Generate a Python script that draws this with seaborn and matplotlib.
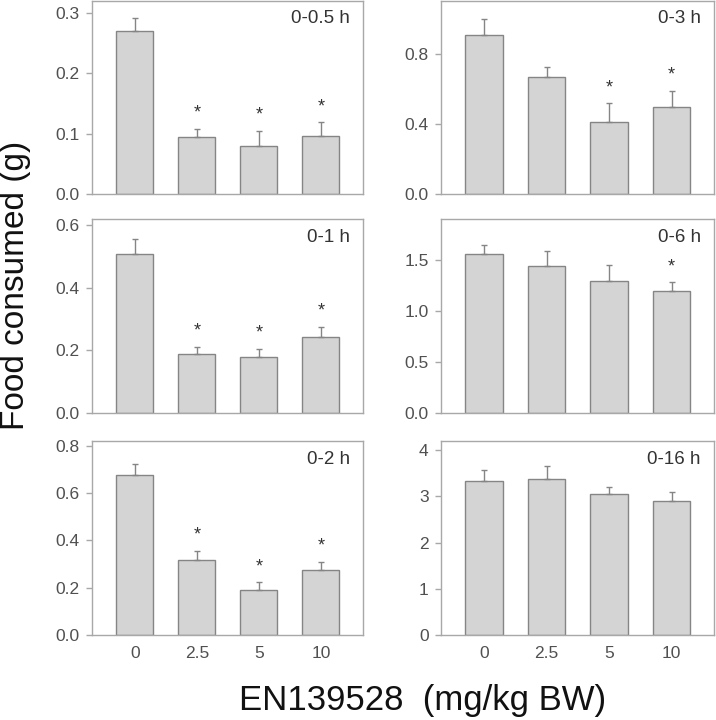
import matplotlib
matplotlib.use("Agg")
import matplotlib.pyplot as plt
import seaborn as sns
import pandas as pd

# ---- data ----
doses = ["0", "2.5", "5", "10"]

titles = ["0-0.5 h", "0-1 h", "0-2 h", "0-3 h", "0-6 h", "0-16 h"]

mean_05h = [0.270, 0.094, 0.080, 0.096]
sem_05h = [0.022, 0.014, 0.025, 0.023]
sig_05h = [False, True, True, True]

mean_1h = [0.507, 0.187, 0.178, 0.244]
sem_1h = [0.049, 0.025, 0.028, 0.032]
sig_1h = [False, True, True, True]

mean_2h = [0.678, 0.315, 0.192, 0.276]
sem_2h = [0.044, 0.042, 0.030, 0.034]
sig_2h = [False, True, True, True]

mean_3h = [0.905, 0.667, 0.411, 0.494]
sem_3h = [0.095, 0.055, 0.106, 0.095]
sig_3h = [False, False, True, True]

mean_6h = [1.56, 1.44, 1.29, 1.19]
sem_6h = [0.09, 0.15, 0.16, 0.09]
sig_6h = [False, False, False, True]

mean_16h = [3.34, 3.38, 3.06, 2.90]
sem_16h = [0.23, 0.28, 0.14, 0.20]
sig_16h = [False, False, False, False]

ylims = [0.32, 0.62, 0.82, 1.10, 1.90, 4.20]
yticks = [
    [0.0, 0.1, 0.2, 0.3],
    [0.0, 0.2, 0.4, 0.6],
    [0.0, 0.2, 0.4, 0.6, 0.8],
    [0.0, 0.4, 0.8],
    [0.0, 0.5, 1.0, 1.5],
    [0, 1, 2, 3, 4],
]
ytick_fmt = ["%.1f", "%.1f", "%.1f", "%.1f", "%.1f", "%d"]

means = [mean_05h, mean_1h, mean_2h, mean_3h, mean_6h, mean_16h]
sems = [sem_05h, sem_1h, sem_2h, sem_3h, sem_6h, sem_16h]
sigs = [sig_05h, sig_1h, sig_2h, sig_3h, sig_6h, sig_16h]

# ---- style ----
sns.set_theme(style="white")
plt.rcParams["font.family"] = ["Liberation Sans", "DejaVu Sans"]

BAR = "#d4d4d4"
EDGE = "#858585"
SPINE = "#a8a8a8"
TICKTXT = "#505050"

fig = plt.figure(figsize=(7.16, 7.20), dpi=100)

W, H = 716, 720
col_x = [92, 441]
col_w = [271, 273]
rows = [(1, 194), (219, 413), (441, 635)]

for k in range(6):
    col = k // 3
    row = k % 3
    top, bot = rows[row]
    ax = fig.add_axes([col_x[col] / W, 1 - bot / H, col_w[col] / W, (bot - top) / H])

    df = pd.DataFrame({"dose": doses, "food": means[k]})
    sns.barplot(data=df, x="dose", y="food", order=doses, color=BAR,
                saturation=1, edgecolor=EDGE, linewidth=1.0, width=0.6,
                errorbar=None, ax=ax)
    ax.errorbar(range(len(doses)), means[k], yerr=[[0] * len(doses), sems[k]],
                fmt="none", ecolor=EDGE, elinewidth=1.0, capsize=2.3,
                capthick=1.0, zorder=1)

    for i, s in enumerate(sigs[k]):
        if s:
            ax.annotate("*", xy=(i, means[k][i] + sems[k][i]), xytext=(0, 5),
                        textcoords="offset points", ha="center", va="bottom",
                        fontsize=13, color="#333333")

    ax.set_xlim(-0.69, 3.68)
    ax.set_ylim(0, ylims[k])
    ax.set_yticks(yticks[k])
    ax.set_yticklabels([ytick_fmt[k] % v for v in yticks[k]])
    ax.set_xlabel("")
    ax.set_ylabel("")

    for sp in ax.spines.values():
        sp.set_visible(True)
        sp.set_color(SPINE)
        sp.set_linewidth(1.0)

    ax.tick_params(axis="y", which="both", left=True, length=4, width=1,
                   color=SPINE, labelsize=12.5, labelcolor=TICKTXT, pad=5)
    ax.tick_params(axis="x", length=0, labelsize=12.5, labelcolor=TICKTXT, pad=8)
    if row != 2:
        ax.set_xticklabels([])

    ax.text(0.952, 0.907, titles[k], transform=ax.transAxes, ha="right",
            va="center", fontsize=13.5, color="#333333")

fig.text(0.022, 0.604, "Food consumed (g)", rotation=90, ha="center",
         va="center", fontsize=24, color="#111111")
fig.text(0.59, 0.0139, "EN139528  (mg/kg BW)", ha="center", va="baseline",
         fontsize=25, color="#111111")

fig.savefig("out.png", dpi=100)
